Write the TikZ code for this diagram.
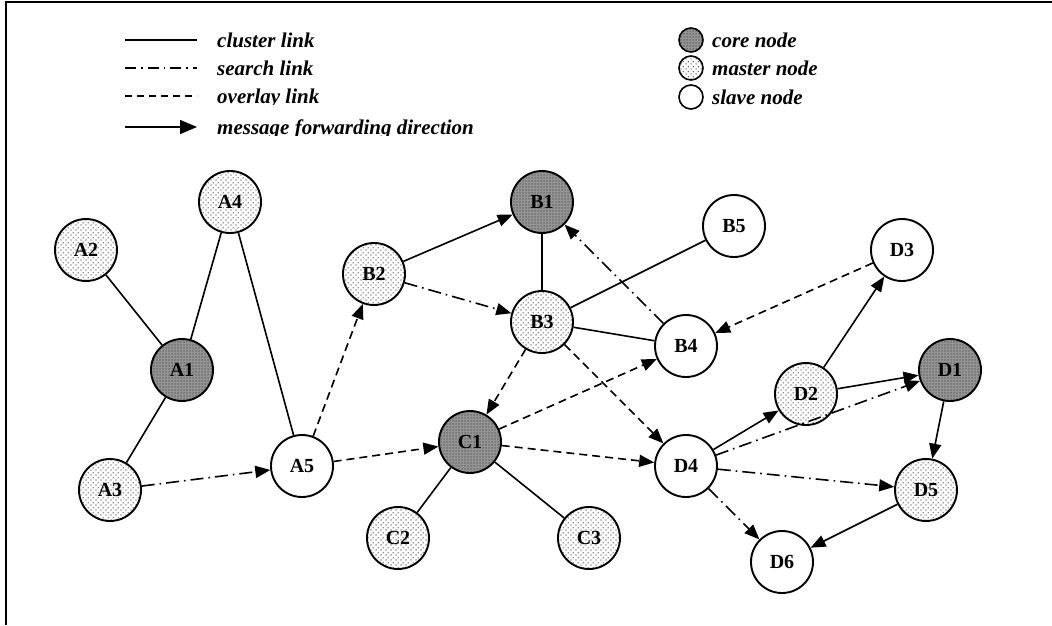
\documentclass[tikz,border=0pt]{standalone}
\usepackage{fontspec}
\setmainfont{Liberation Serif}
\usetikzlibrary{arrows.meta,patterns.meta}

% light dotted fill of the master nodes
\tikzdeclarepattern{
  name=masterdots, type=uncolored,
  bounding box={(0pt,0pt) and (5pt,5pt)},
  tile size={(5pt,5pt)},
  code={\fill (1.25pt,1.25pt) circle (0.75pt); \fill (3.75pt,3.75pt) circle (0.75pt);}
}
% dense dark texture of the core nodes
\tikzdeclarepattern{
  name=coredots, type=uncolored,
  bounding box={(0pt,0pt) and (2.5pt,2.5pt)},
  tile size={(2.5pt,2.5pt)},
  code={\fill (1.25pt,1.25pt) circle (0.8pt);}
}

\tikzset{
  nd/.style={circle, draw, line width=1.9pt, minimum size=62pt, inner sep=0pt,
             font=\fontsize{20}{20}\selectfont\bfseries},
  core/.style={nd, preaction={fill=black!42}, pattern=coredots, pattern color=black!75},
  master/.style={nd, preaction={fill=white}, pattern=masterdots, pattern color=black!85},
  slave/.style={nd, fill=white},
  legnd/.style={circle, draw, line width=1.6pt, minimum size=24pt, inner sep=0pt},
  legtext/.style={anchor=base west, inner sep=0pt,
                  font=\fontsize{21}{21}\selectfont\bfseries\itshape},
  cl/.style={line width=1.6pt},
  fw/.style={line width=1.6pt, -{Triangle[length=15pt,width=12pt]}},
  sr/.style={fw, dash pattern=on 13pt off 5pt on 1.6pt off 5pt},
  ov/.style={fw, dash pattern=on 8pt off 5pt},
}

\begin{document}
\begin{tikzpicture}[x=1pt,y=-1pt]
\useasboundingbox (0,0) rectangle (1052,625);

% frame on the top and left
\draw[line width=2pt] (6,625) -- (6,2) -- (1052,2);

% ---- legend: link kinds ----
\coordinate (l1a) at (125,40);  \coordinate (l1b) at (197,40);
\coordinate (l2a) at (125,68);  \coordinate (l2b) at (197,68);
\coordinate (l3a) at (125,96);  \coordinate (l3b) at (197,96);
\coordinate (l4a) at (125,127); \coordinate (l4b) at (197,127);
\draw[cl] (l1a) -- (l1b);
\draw[cl, dash pattern=on 11pt off 5pt on 1.6pt off 5pt] (l2a) -- (l2b);
\draw[cl, dash pattern=on 7pt off 5pt] (l3a) -- (l3b);
\draw[line width=1.6pt, -{Triangle[length=17pt,width=14pt]}] (l4a) -- (l4b);

\node[legtext] (t1) at (217,47) {cluster link};
\node[legtext] (t2) at (217,75) {search link};
\begin{scope}
  \clip (210,80) rectangle (520,104.5);
  \node[legtext] (t3) at (217,103) {overlay link};
\end{scope}
\begin{scope}
  \clip (210,110) rectangle (520,135.5);
  \node[legtext] (t4) at (217,134) {message forwarding direction};
\end{scope}

% ---- legend: node kinds ----
\node[legnd, preaction={fill=black!42}, pattern=coredots, pattern color=black!75] (k1) at (691,40) {};
\node[legnd, preaction={fill=white}, pattern=masterdots, pattern color=black!85] (k2) at (691,68) {};
\node[legnd, fill=white] (k3) at (691,97) {};
\node[legtext] (u1) at (712,47) {core node};
\node[legtext] (u2) at (712,75) {master node};
\node[legtext] (u3) at (712,104) {slave node};

% ---- cluster A ----
\node[core]   (A1) at (182,370) {A1};
\node[master] (A2) at (86,250)  {A2};
\node[master] (A3) at (110,490) {A3};
\node[master] (A4) at (230,202) {A4};
\node[slave]  (A5) at (302,466) {A5};

% ---- cluster B ----
\node[core]   (B1) at (542,202) {B1};
\node[master] (B2) at (374,274) {B2};
\node[master] (B3) at (542,322) {B3};
\node[slave]  (B4) at (686,346) {B4};
\node[slave]  (B5) at (734,226) {B5};

% ---- cluster C ----
\node[core]   (C1) at (470,442) {C1};
\node[master] (C2) at (398,538) {C2};
\node[master] (C3) at (589,538) {C3};

% ---- cluster D ----
\node[core]   (D1) at (950,370) {D1};
\node[master] (D2) at (806,394) {D2};
\node[slave]  (D3) at (902,250) {D3};
\node[slave]  (D4) at (686,466) {D4};
\node[master] (D5) at (926,490) {D5};
\node[slave]  (D6) at (782,562) {D6};

% cluster links
\draw[cl] (A2) -- (A1);
\draw[cl] (A1) -- (A4);
\draw[cl] (A1) -- (A3);
\draw[cl] (A4) -- (A5);
\draw[cl] (B1) -- (B3);
\draw[cl] (B3) -- (B5);
\draw[cl] (B3) -- (B4);
\draw[cl] (C1) -- (C2);
\draw[cl] (C1) -- (C3);

% message forwarding inside clusters
\draw[fw] (B2) -- (B1);
\draw[fw] (D4) -- (D2);
\draw[fw] (D2) -- (D3);
\draw[fw] (D2) -- (D1);
\draw[fw] (D1) -- (D5);
\draw[fw] (D5) -- (D6);

% search links
\draw[sr] (A3) -- (A5);
\draw[sr] (B2) -- (B3);
\draw[sr] (B4) -- (B1);
\draw[sr] (D4) -- (D1);
\draw[sr] (D4) -- (D5);
\draw[sr] (D4) -- (D6);

% overlay links
\draw[ov] (A5) -- (B2);
\draw[ov] (A5) -- (C1);
\draw[ov] (B3) -- (C1);
\draw[ov] (C1) -- (B4);
\draw[ov] (C1) -- (D4);
\draw[ov] (B3) -- (D4);
\draw[ov] (D3) -- (B4);
\end{tikzpicture}
\end{document}
